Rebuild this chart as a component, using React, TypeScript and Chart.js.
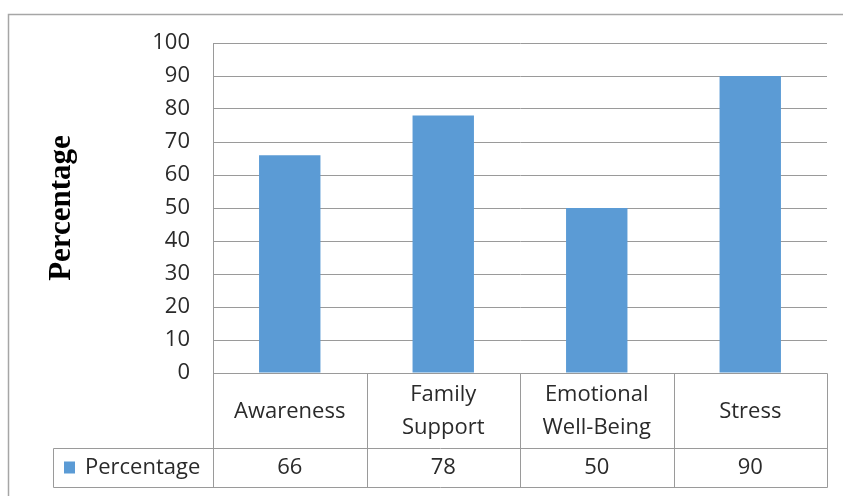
import React, { useEffect, useRef } from "react";
import { Chart, registerables } from "chart.js";

Chart.register(...registerables);

const categories: string[][] = [["Awareness"], ["Family", "Support"], ["Emotional", "Well-Being"], ["Stress"]];
const seriesName = "Percentage";
const values: number[] = [66, 78, 50, 90];
const yTicks: number[] = [0, 10, 20, 30, 40, 50, 60, 70, 80, 90, 100];
const axisTitle = "Percentage";

const BAR_COLOR = "#5B9BD5";
const LINE_COLOR = "#9a9a9a";
const TEXT_COLOR = "#2a2a2a";
const SANS = "'Open Sans', 'Noto Sans', sans-serif";

const tablePlugin = {
  id: "dataTable",
  beforeDraw(chart: any) {
    const { ctx, width, height } = chart;
    ctx.save();
    ctx.fillStyle = "#ffffff";
    ctx.fillRect(0, 0, width, height);
    // outer chart border
    ctx.strokeStyle = "#a6a6a6";
    ctx.lineWidth = 1.5;
    ctx.beginPath();
    ctx.moveTo(8.5, height);
    ctx.lineTo(8.5, 14.5);
    ctx.lineTo(width, 14.5);
    ctx.stroke();
    ctx.restore();
  },
  afterDraw(chart: any) {
    const { ctx, chartArea } = chart;
    const xs = chart.scales.x;
    const n = categories.length;
    const left = chartArea.left;
    const right = chartArea.right;
    const top = chartArea.bottom;
    const rowSplit = top + 75;
    const bottom = rowSplit + 39;
    const legendLeft = 53;
    const step = (right - left) / n;
    const bounds: number[] = [];
    for (let i = 0; i <= n; i++) bounds.push(left + step * i);

    ctx.save();
    ctx.strokeStyle = LINE_COLOR;
    ctx.lineWidth = 1;
    const line = (x1: number, y1: number, x2: number, y2: number) => {
      ctx.beginPath();
      ctx.moveTo(Math.round(x1) + 0.5, Math.round(y1) + 0.5);
      ctx.lineTo(Math.round(x2) + 0.5, Math.round(y2) + 0.5);
      ctx.stroke();
    };
    line(left, top, right, top);
    line(legendLeft, rowSplit, right, rowSplit);
    line(legendLeft, bottom, right, bottom);
    line(legendLeft, rowSplit, legendLeft, bottom);
    bounds.forEach((b) => line(b, top, b, bottom));

    ctx.fillStyle = TEXT_COLOR;
    ctx.font = `22px ${SANS}`;
    ctx.textAlign = "center";
    ctx.textBaseline = "middle";
    const labelMid = (top + rowSplit) / 2 + 1;
    const valueMid = (rowSplit + bottom) / 2;
    categories.forEach((lines, i) => {
      const cx = xs.getPixelForValue(i);
      const lh = 33;
      const y0 = labelMid - ((lines.length - 1) * lh) / 2;
      lines.forEach((t, j) => ctx.fillText(t, cx, y0 + j * lh));
      ctx.fillText(String(values[i]), cx, valueMid);
    });

    // legend key
    ctx.fillStyle = BAR_COLOR;
    ctx.fillRect(legendLeft + 11, valueMid - 6, 11, 12);
    ctx.fillStyle = TEXT_COLOR;
    ctx.textAlign = "left";
    ctx.fillText(seriesName, legendLeft + 32, valueMid);
    ctx.restore();
  },
};

export default function App() {
  const ref = useRef<HTMLCanvasElement | null>(null);
  useEffect(() => {
    if (!ref.current) return;
    const chart = new Chart(ref.current, {
      type: "bar",
      data: {
        labels: categories as any,
        datasets: [
          {
            label: seriesName,
            data: values,
            backgroundColor: BAR_COLOR,
            categoryPercentage: 0.4,
            barPercentage: 1,
          },
        ],
      },
      options: {
        responsive: false,
        animation: false,
        layout: { padding: { left: 39, top: 43, right: 16, bottom: 123 } },
        plugins: { legend: { display: false }, tooltip: { enabled: false } },
        scales: {
          x: { display: false },
          y: {
            min: 0,
            max: 100,
            afterBuildTicks: (scale: any) => {
              scale.ticks = yTicks.map((v) => ({ value: v }));
            },
            afterFit: (scale: any) => {
              scale.width = 174;
            },
            ticks: {
              font: { family: SANS, size: 22 },
              color: TEXT_COLOR,
              padding: 23,
            },
            grid: { color: LINE_COLOR, drawTicks: false, lineWidth: 1 },
            border: { display: true, color: LINE_COLOR },
            title: {
              display: true,
              text: axisTitle,
              color: "#000000",
              font: { family: "'Liberation Serif', 'DejaVu Serif', serif", size: 31, weight: "bold" },
            },
          },
        },
      },
      plugins: [tablePlugin],
    });
    return () => chart.destroy();
  }, []);
  return (
    <div style={{ position: "fixed", left: 0, top: 0, width: 843, height: 496 }}>
      <canvas ref={ref} width={843} height={496} style={{ width: 843, height: 496 }} />
    </div>
  );
}
